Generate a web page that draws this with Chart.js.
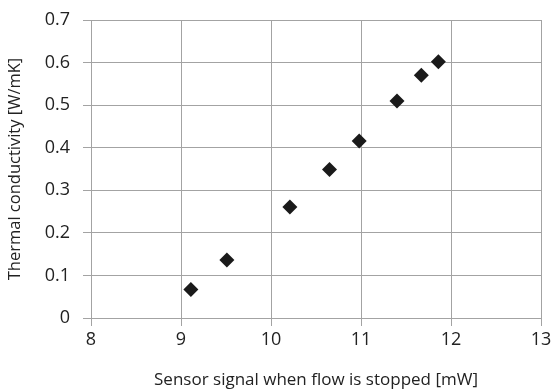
<!DOCTYPE html>
<html>
<head>
<meta charset="utf-8">
<script src="https://cdn.jsdelivr.net/npm/chart.js@4/dist/chart.umd.min.js"></script>
<style>
html,body{margin:0;padding:0;background:#fff;}
#c{display:block;}
</style>
</head>
<body>
<canvas id="c" width="552" height="390"></canvas>
<script>
const sensorSignal = [9.11, 9.51, 10.21, 10.65, 10.98, 11.40, 11.67, 11.86];
const conductivity = [0.067, 0.136, 0.261, 0.349, 0.416, 0.510, 0.570, 0.602];
const xTitle = 'Sensor signal when flow is stopped [mW]';
const yTitle = 'Thermal conductivity [W/mK]';

const points = sensorSignal.map((x, i) => ({x: x, y: conductivity[i]}));
const FONT = "'Open Sans', 'Noto Sans', sans-serif";
const grid = '#a3a3a3';

new Chart(document.getElementById('c'), {
  type: 'scatter',
  data: {
    datasets: [{
      data: points,
      pointStyle: 'rectRot',
      pointRadius: 7.5,
      pointHoverRadius: 7.5,
      backgroundColor: '#1a1a1a',
      borderColor: '#1a1a1a',
      borderWidth: 0
    }]
  },
  options: {
    responsive: false,
    animation: false,
    devicePixelRatio: 1,
    layout: { padding: { top: 20, right: 11, left: 0, bottom: 0 } },
    plugins: { legend: { display: false }, tooltip: { enabled: false } },
    scales: {
      x: {
        type: 'linear',
        min: 8, max: 13,
        afterFit: s => { s.height = 72; s.paddingLeft = 0; s.paddingRight = 0; },
        ticks: { stepSize: 1, color: '#222', font: { family: FONT, size: 18 }, padding: 3 },
        grid: { color: grid, lineWidth: 1, tickLength: 8, drawTicks: true },
        border: { color: grid },
        title: { display: true, text: xTitle, color: '#222', font: { family: FONT, size: 17 }, padding: { top: 0, bottom: 0 } }
      },
      y: {
        type: 'linear',
        min: 0, max: 0.7,
        afterFit: s => { s.width = 91; s.paddingTop = 0; s.paddingBottom = 0; },
        ticks: { stepSize: 0.1, color: '#222', font: { family: FONT, size: 18 }, padding: 13 },
        grid: { color: grid, lineWidth: 1, tickLength: 8, drawTicks: true },
        border: { color: grid },
        title: { display: true, text: yTitle, color: '#222', font: { family: FONT, size: 16.5 }, padding: { top: 5, bottom: 0 } }
      }
    }
  }
});
</script>
</body>
</html>
